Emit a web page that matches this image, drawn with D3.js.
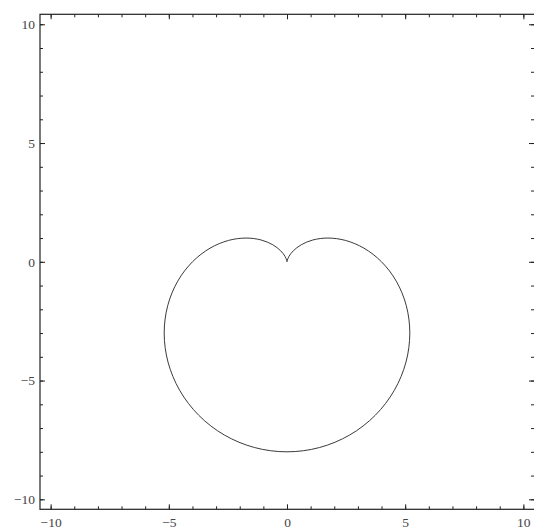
<!DOCTYPE html>
<html>
<head>
<meta charset="utf-8">
<script src="https://cdn.jsdelivr.net/npm/d3@7"></script>
<style>
html,body{margin:0;padding:0;background:#fff;}
svg{display:block;}
</style>
</head>
<body>
<svg id="chart" width="534" height="531"></svg>
<script>
// Curve points (cardioid), from the cusp round the left, bottom and right
const curveX = [0, -0.0106, -0.0825, -0.268, -0.6015, -1.0946, -1.7321, -2.4733, -3.2554, -4.0, -4.6230, -5.0443, -5.1962, -5.0335, -4.5407, -3.7321, -2.6535, -1.3782, 0,
                1.3782, 2.6535, 3.7321, 4.5407, 5.0335, 5.1962, 5.0443, 4.6230, 4.0, 3.2554, 2.4733, 1.7321, 1.0946, 0.6015, 0.268, 0.0825, 0.0106, 0];
const curveY = [0, 0.0599, 0.2267, 0.4641, 0.7168, 0.9186, 1.0, 0.9001, 0.5739, 0, -0.8150, -1.8359, -3.0, -4.2240, -5.4110, -6.4641, -7.2909, -7.8185, -8.0,
                -7.8185, -7.2909, -6.4641, -5.4110, -4.2240, -3.0, -1.8359, -0.8150, 0, 0.5739, 0.9001, 1.0, 0.9186, 0.7168, 0.4641, 0.2267, 0.0599, 0];
const majorTicks = [-10, -5, 0, 5, 10];
const minorTicks = [-10,-9,-8,-7,-6,-5,-4,-3,-2,-1,0,1,2,3,4,5,6,7,8,9,10];

const svg = d3.select("#chart");
const pLeft = 40, pRight = 534, pTop = 14.3, pBottom = 509.3;
const x = d3.scaleLinear().domain([-10.45, 10.45]).range([pLeft, pRight]);
const y = d3.scaleLinear().domain([-10.42, 10.42]).range([pBottom, pTop]);

const fmt = d => d < 0 ? "\u2212" + Math.abs(d) : String(d);
const font = "'Liberation Serif', 'DejaVu Serif', serif";

function styleAxis(g) {
  g.select(".domain").remove();
  g.selectAll(".tick line").attr("stroke", "#222").attr("stroke-width", 1);
  g.selectAll(".tick text").attr("fill", "#444").style("font-family", font).style("font-size", "13.5px");
}

// minor ticks (all four sides)
svg.append("g").attr("transform", `translate(0,${pBottom})`)
  .call(d3.axisBottom(x).tickValues(minorTicks).tickSize(-3).tickFormat(""))
  .call(styleAxis);
svg.append("g").attr("transform", `translate(0,${pTop})`)
  .call(d3.axisTop(x).tickValues(minorTicks).tickSize(-3).tickFormat(""))
  .call(styleAxis);
svg.append("g").attr("transform", `translate(${pLeft},0)`)
  .call(d3.axisLeft(y).tickValues(minorTicks).tickSize(-3).tickFormat(""))
  .call(styleAxis);
svg.append("g").attr("transform", `translate(${pRight},0)`)
  .call(d3.axisRight(y).tickValues(minorTicks).tickSize(-3).tickFormat(""))
  .call(styleAxis);

// major ticks with labels
svg.append("g").attr("transform", `translate(0,${pBottom})`)
  .call(d3.axisBottom(x).tickValues(majorTicks).tickSize(-5).tickPadding(8).tickFormat(fmt))
  .call(styleAxis);
svg.append("g").attr("transform", `translate(0,${pTop})`)
  .call(d3.axisTop(x).tickValues(majorTicks).tickSize(-5).tickFormat(""))
  .call(styleAxis);
svg.append("g").attr("transform", `translate(${pLeft},0)`)
  .call(d3.axisLeft(y).tickValues(majorTicks).tickSize(-5).tickPadding(5).tickFormat(fmt))
  .call(styleAxis);
svg.append("g").attr("transform", `translate(${pRight},0)`)
  .call(d3.axisRight(y).tickValues(majorTicks).tickSize(-5).tickFormat(""))
  .call(styleAxis);

// frame (right edge falls just outside the window, as in the original)
svg.append("rect")
  .attr("x", pLeft).attr("y", pTop)
  .attr("width", pRight + 1 - pLeft).attr("height", pBottom - pTop)
  .attr("fill", "none").attr("stroke", "#222").attr("stroke-width", 1.2);

// curve
const pts = curveX.map((v, i) => [v, curveY[i]]);
const line = d3.line().x(d => x(d[0])).y(d => y(d[1])).curve(d3.curveCatmullRom.alpha(0.5));
svg.append("path").attr("d", line(pts))
  .attr("fill", "none").attr("stroke", "#3a3a3a").attr("stroke-width", 1);
</script>
</body>
</html>
